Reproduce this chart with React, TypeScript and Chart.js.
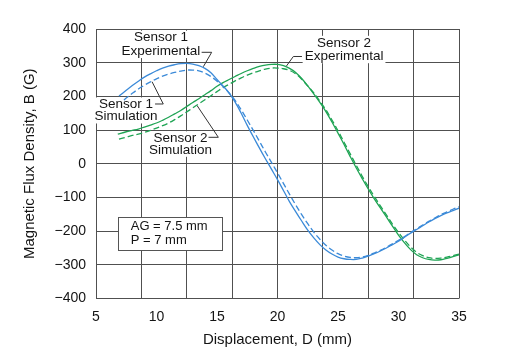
import React, { useEffect, useRef } from 'react';
import { Chart, registerables } from 'chart.js';

Chart.register(...registerables);

const FONT = "'Liberation Sans', Arial, Helvetica, sans-serif";

// Sensor 1 experimental (solid blue)
const s1ExpX = [6.9, 7.5, 8, 8.5, 9, 9.5, 10, 10.5, 11, 11.5, 12, 12.5, 13, 13.5, 14, 14.5, 15, 15.5, 16, 16.5, 17, 17.5, 18, 18.5, 19, 19.5, 20, 20.5, 21, 21.5, 22, 22.5, 23, 23.5, 24, 24.5, 25, 25.5, 26, 26.5, 27, 27.5, 28, 28.5, 29, 29.5, 30, 30.5, 31, 31.5, 32, 32.5, 33, 33.5, 34, 34.5, 35];
const s1ExpY = [201, 218, 232, 245, 257, 267, 276, 284, 290, 294, 297, 298, 296, 291, 283, 270, 250, 231, 210, 183, 150, 114, 80, 47, 15, -16, -47, -80, -113, -142, -170, -197, -220, -240, -256, -268, -277, -282, -284, -284, -280, -274, -267, -259, -250, -240, -230, -218, -206, -195, -184, -173, -163, -154, -146, -139, -132];

// Sensor 1 simulation (dashed blue)
const s1SimX = [7.3, 7.5, 8, 8.5, 9, 9.5, 10, 10.5, 11, 11.5, 12, 12.5, 13, 13.5, 14, 14.5, 15, 15.5, 16, 16.5, 17, 17.5, 18, 18.5, 19, 19.5, 20, 20.5, 21, 21.5, 22, 22.5, 23, 23.5, 24, 24.5, 25, 25.5, 26, 26.5, 27, 27.5, 28, 28.5, 29, 29.5, 30, 30.5, 31, 31.5, 32, 32.5, 33, 33.5, 34, 34.5, 35];
const s1SimY = [189, 195, 209, 222, 233, 243, 252, 260, 266, 271, 275, 278, 278, 276, 269, 259, 245, 229, 210, 188, 160, 130, 99, 67, 35, 4, -27, -59, -91, -122, -151, -178, -203, -224, -242, -256, -267, -274, -278, -279, -277, -272, -265, -257, -248, -238, -227, -216, -204, -193, -182, -171, -161, -151, -143, -135, -128];

// Sensor 2 experimental (solid green)
const s2ExpX = [6.8, 7.5, 8, 8.5, 9, 9.5, 10, 10.5, 11, 11.5, 12, 12.5, 13, 13.5, 14, 14.5, 15, 15.5, 16, 16.5, 17, 17.5, 18, 18.5, 19, 19.5, 20, 20.5, 21, 21.5, 22, 22.5, 23, 23.5, 24, 24.5, 25, 25.5, 26, 26.5, 27, 27.5, 28, 28.5, 29, 29.5, 30, 30.5, 31, 31.5, 32, 32.5, 33, 33.5, 34, 34.5, 35];
const s2ExpY = [88, 95, 99, 103, 109, 115, 121, 129, 138, 148, 158, 170, 182, 193, 205, 217, 230, 241, 250, 259, 268, 276, 283, 289, 293, 295, 295, 291, 283, 271, 253, 231, 207, 182, 155, 124, 91, 57, 22, -12, -44, -75, -104, -131, -158, -185, -212, -235, -255, -270, -279, -284, -286, -285, -281, -276, -270];

// Sensor 2 simulation (dashed green)
const s2SimX = [6.9, 7.5, 8, 8.5, 9, 9.5, 10, 10.5, 11, 11.5, 12, 12.5, 13, 13.5, 14, 14.5, 15, 15.5, 16, 16.5, 17, 17.5, 18, 18.5, 19, 19.5, 20, 20.5, 21, 21.5, 22, 22.5, 23, 23.5, 24, 24.5, 25, 25.5, 26, 26.5, 27, 27.5, 28, 28.5, 29, 29.5, 30, 30.5, 31, 31.5, 32, 32.5, 33, 33.5, 34, 34.5, 35];
const s2SimY = [73, 79, 84, 88, 93, 99, 106, 113, 121, 131, 142, 154, 166, 178, 190, 202, 214, 226, 236, 246, 255, 263, 270, 276, 281, 284, 284, 282, 277, 267, 251, 231, 210, 186, 160, 130, 98, 64, 30, -4, -37, -68, -97, -125, -152, -179, -204, -227, -247, -263, -273, -279, -281, -280, -277, -273, -268];

// Axis settings
const xMin = 5;
const xMax = 35;
const xTickStep = 5;
const xGridValues = [5, 8.75, 12.5, 16.25, 20, 23.75, 27.5, 31.25, 35];
const yMin = -400;
const yMax = 400;
const yTickStep = 100;

// Annotation texts (positions in data units)
const annotLabels = [
  { lines: ['Sensor 1', 'Experimental'], x: 10.37, y: 374, gap: 13.3 },
  { lines: ['Sensor 1', 'Simulation'], x: 7.48, y: 176, gap: 12 },
  { lines: ['Sensor 2', 'Simulation'], x: 11.98, y: 75.5, gap: 11.5 },
  { lines: ['Sensor 2', 'Experimental'], x: 25.5, y: 359, gap: 13.4 },
];
const leaders = [
  [[13.73, 330.8], [14.56, 330.8], [13.87, 288]],
  [[9.88, 177.4], [10.56, 177.4], [9.63, 243.6]],
  [[14.3, 78.5], [15.11, 78.5], [13.35, 172.9]],
  [[22.02, 318.4], [21.31, 318.4], [20.74, 290.2]],
];
const paramLines = ['AG = 7.5 mm', 'P = 7 mm'];
const paramBox = { x0: 6.84, x1: 15.39, y0: -159, y1: -256, tx: 7.87, ty: [-186.5, -227] };

const BLUE = '#3b8ad8';
const GREEN = '#1fa454';
const GRID = '#505050';
const TEXT = '#141414';

function pts(xs: number[], ys: number[]) {
  return xs.map((x, i) => ({ x, y: ys[i] }));
}

export default function App() {
  const ref = useRef<HTMLCanvasElement>(null);

  useEffect(() => {
    document.body.style.margin = '0';
    const canvas = ref.current;
    if (!canvas) return;

    const annot = {
      id: 'annot',
      beforeDatasetsDraw(chart: any) {
        const ctx = chart.ctx;
        const xs = chart.scales.x;
        const ys = chart.scales.y;
        ctx.save();
        ctx.font = `13.5px ${FONT}`;
        ctx.textAlign = 'center';
        ctx.textBaseline = 'middle';
        for (const lab of annotLabels) {
          const cx = xs.getPixelForValue(lab.x);
          const cy = ys.getPixelForValue(lab.y);
          const w = Math.max(...lab.lines.map((l) => ctx.measureText(l).width));
          const h = lab.gap * (lab.lines.length - 1) + 12;
          ctx.fillStyle = '#ffffff';
          ctx.fillRect(cx - w / 2 - 2, cy - 7, w + 4, h + 2);
          ctx.fillStyle = TEXT;
          lab.lines.forEach((l, i) => ctx.fillText(l, cx, cy + i * lab.gap));
        }
        ctx.strokeStyle = '#333333';
        ctx.lineWidth = 1;
        for (const ld of leaders) {
          ctx.beginPath();
          ld.forEach((p, i) => {
            const px = xs.getPixelForValue(p[0]);
            const py = ys.getPixelForValue(p[1]);
            if (i === 0) ctx.moveTo(px, py);
            else ctx.lineTo(px, py);
          });
          ctx.stroke();
        }
        // parameter box
        const bx0 = Math.round(xs.getPixelForValue(paramBox.x0)) + 0.5;
        const bx1 = Math.round(xs.getPixelForValue(paramBox.x1)) + 0.5;
        const by0 = Math.round(ys.getPixelForValue(paramBox.y0)) + 0.5;
        const by1 = Math.round(ys.getPixelForValue(paramBox.y1)) + 0.5;
        ctx.fillStyle = '#ffffff';
        ctx.fillRect(bx0, by0, bx1 - bx0, by1 - by0);
        ctx.strokeStyle = '#555555';
        ctx.strokeRect(bx0, by0, bx1 - bx0, by1 - by0);
        ctx.fillStyle = TEXT;
        ctx.textAlign = 'left';
        ctx.font = `13px ${FONT}`;
        paramLines.forEach((l, i) => {
          ctx.fillText(l, xs.getPixelForValue(paramBox.tx), ys.getPixelForValue(paramBox.ty[i]));
        });
        ctx.restore();
      },
    };

    const lineDs = (label: string, xs: number[], ys: number[], color: string, dashed: boolean) => ({
      label,
      data: pts(xs, ys),
      showLine: true,
      borderColor: color,
      backgroundColor: color,
      borderWidth: 1.3,
      borderDash: dashed ? [6, 3] : [],
      pointRadius: 0,
      tension: 0.35,
      fill: false,
    });

    const chart = new Chart(canvas, {
      type: 'scatter',
      data: {
        datasets: [
          lineDs('Sensor 1 Experimental', s1ExpX, s1ExpY, BLUE, false),
          lineDs('Sensor 1 Simulation', s1SimX, s1SimY, BLUE, true),
          lineDs('Sensor 2 Experimental', s2ExpX, s2ExpY, GREEN, false),
          lineDs('Sensor 2 Simulation', s2SimX, s2SimY, GREEN, true),
        ],
      },
      options: {
        responsive: false,
        maintainAspectRatio: false,
        animation: false,
        layout: { padding: { left: 0, right: 49, top: 29, bottom: 0 } },
        plugins: {
          legend: { display: false },
          tooltip: { enabled: false },
        },
        scales: {
          x: {
            type: 'linear',
            position: 'bottom',
            min: xMin,
            max: xMax,
            ticks: {
              stepSize: xTickStep,
              padding: 10,
              color: TEXT,
              font: { family: FONT, size: 14 },
              maxRotation: 0,
            },
            grid: { display: false, drawTicks: false },
            border: { display: false },
            title: {
              display: true,
              text: 'Displacement, D (mm)',
              color: TEXT,
              font: { family: FONT, size: 15 },
              padding: { top: 0, bottom: 13 },
            },
            afterFit(s: any) {
              s.height = 63.5;
            },
          },
          xg: {
            type: 'linear',
            position: 'top',
            min: xMin,
            max: xMax,
            afterBuildTicks(s: any) {
              s.ticks = xGridValues.map((v) => ({ value: v }));
            },
            ticks: { display: false },
            grid: { color: GRID, lineWidth: 1, drawTicks: false },
            border: { display: false },
            afterFit(s: any) {
              s.height = 0;
            },
          },
          y: {
            type: 'linear',
            min: yMin,
            max: yMax,
            ticks: {
              stepSize: yTickStep,
              padding: 10,
              color: TEXT,
              font: { family: FONT, size: 14 },
              callback: (v: any) => (v < 0 ? '\u2212' + Math.abs(v) : String(v)),
            },
            grid: { color: GRID, lineWidth: 1, drawTicks: false },
            border: { display: false },
            title: {
              display: true,
              text: 'Magnetic Flux Density, B (G)',
              color: TEXT,
              font: { family: FONT, size: 15 },
              padding: { top: 21, bottom: 0 },
            },
            afterFit(s: any) {
              s.width = 96;
            },
          },
        },
      } as any,
      plugins: [annot],
    });

    return () => chart.destroy();
  }, []);

  return <canvas ref={ref} width={508} height={362} style={{ display: 'block' }} />;
}
